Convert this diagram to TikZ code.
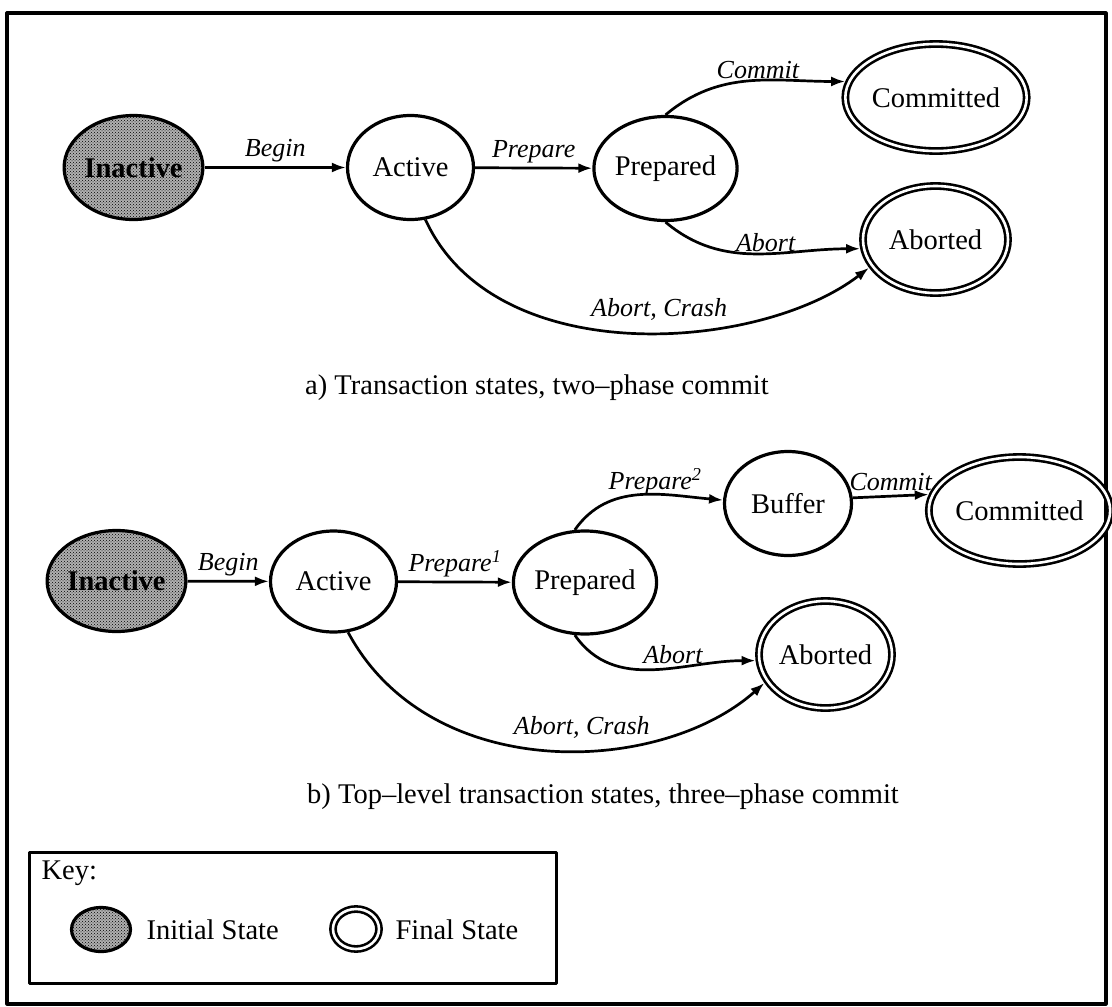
\documentclass[tikz,border=0pt]{standalone}
\usepackage{fontspec}
\setmainfont{Liberation Serif}
\usetikzlibrary{shapes.geometric,arrows.meta,patterns}

\newcommand{\nodefont}{\fontsize{28.5}{31}\selectfont}
\newcommand{\lblfont}{\fontsize{26}{29}\selectfont\itshape}
\newcommand{\capfont}{\fontsize{28.5}{31}\selectfont}

\tikzset{
  state/.style={ellipse, draw, line width=3.2pt, inner sep=0pt, font=\nodefont},
  initstate/.style={state, preaction={fill=gray!62}, pattern=crosshatch dots, font=\nodefont\bfseries},
  finalstate/.style={state, double, double distance=2.6pt, line width=2.6pt, outer sep=3.9pt},
  trans/.style={-{Latex[length=14pt,width=10pt]}, line width=2.7pt},
  lbl/.style={font=\lblfont, inner sep=1pt},
  caption/.style={font=\capfont, inner sep=0pt, anchor=west},
}

\begin{document}
\begin{tikzpicture}[x=1pt, y=1pt, line join=round]
  \useasboundingbox (0,0) rectangle (1112,-1007);
  % Rahmen
  \draw[line width=3.2pt] (7,-13) rectangle (1106,-1004);

  % a) zwei Phasen
  \node[initstate, minimum width=125pt, minimum height=104pt] (ina) at (133.5,-167.5) {Inactive};
  \node[state, minimum width=126pt, minimum height=104pt] (aca) at (410.5,-167.5) {Active};
  \node[state, minimum width=122pt, minimum height=104pt] (pra) at (665.5,-168.5) {Prepared};
  \node[finalstate, minimum width=144pt, minimum height=107pt] (coa) at (936,-97.5) {Committed};
  \node[finalstate, minimum width=145pt, minimum height=107pt] (aba) at (935.5,-239.5) {Aborted};

  \draw[trans] (ina) -- (aca) node[lbl, midway, above=3pt] {Begin};
  \draw[trans] (aca) -- (pra) node[lbl, midway, above=3pt] {Prepare};
  \draw[trans] (pra.90) to[out=40, in=180] node[lbl, pos=0.55, above=-1pt] {Commit} (coa.170);
  \draw[trans] (pra.-90) to[out=-40, in=180] node[lbl, pos=0.55, above=0pt] {Abort} (aba.187);
  \draw[trans] (aca.-74) .. controls (495,-372) and (760,-352) .. (aba.203)
    node[lbl, pos=0.55, above=10pt] {Abort, Crash};

  \node[caption] (capa) at (305,-388) {a) Transaction states, two–phase commit};

  % b) drei Phasen
  \node[initstate, minimum width=126pt, minimum height=101pt] (inb) at (116.5,-581) {Inactive};
  \node[state, minimum width=126pt, minimum height=101pt] (acb) at (333.5,-581.5) {Active};
  \node[state, minimum width=128pt, minimum height=103pt] (prb) at (585,-582.5) {Prepared};
  \node[state, minimum width=127pt, minimum height=104pt] (bub) at (788,-503.5) {Buffer};
  \node[finalstate, minimum width=149pt, minimum height=107pt] (cob) at (1019.5,-510.5) {Committed};
  \node[finalstate, minimum width=133pt, minimum height=107pt] (abb) at (825.5,-654.5) {Aborted};

  \draw[trans] (inb) -- (acb) node[lbl, midway, above=3pt] {Begin};
  \draw[trans] (acb) -- (prb) node[lbl, midway, above=3pt] {Prepare\textsuperscript{1}};
  \draw[trans] (prb.101) to[out=55, in=175] node[lbl, pos=0.6, above=-3pt] {Prepare\textsuperscript{2}} (bub.177);
  \draw[trans] (bub.5) -- (cob.170) node[lbl, midway, above=3pt] {Commit};
  \draw[trans] (prb.-101) to[out=-55, in=180] node[lbl, pos=0.6, above=2pt] {Abort} (abb.185);
  \draw[trans] (acb.-74) .. controls (430,-785) and (660,-776) .. (abb.205)
    node[lbl, pos=0.57, above=9pt] {Abort, Crash};

  \node[caption] (capb) at (307,-797) {b) Top–level transaction states, three–phase commit};

  % Legende
  \draw[line width=3pt] (29,-852) rectangle (556,-983);
  \node[font=\nodefont, anchor=west] (key) at (38,-873) {Key:};
  \node[initstate, minimum width=59pt, minimum height=44pt] (kin) at (101,-929.5) {};
  \node[font=\nodefont, anchor=west] (kint) at (143,-929.5) {Initial State};
  \node[finalstate, minimum width=46pt, minimum height=40pt] (kfi) at (356,-929) {};
  \node[font=\nodefont, anchor=west] (kfit) at (392,-929.5) {Final State};
\end{tikzpicture}
\end{document}
